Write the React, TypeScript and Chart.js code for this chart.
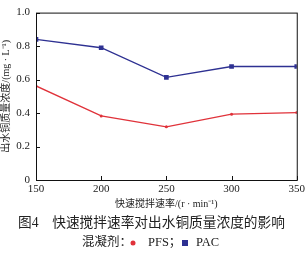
import { useEffect, useRef } from "react";
import { Chart, registerables } from "chart.js";

Chart.register(...registerables);

const speeds = [150, 200, 250, 300, 350];
const pfsValues = [0.562, 0.383, 0.318, 0.393, 0.403];
const pacValues = [0.84, 0.79, 0.613, 0.678, 0.678];
const xTicks = [150, 200, 250, 300, 350];
const yTicks = [0, 0.2, 0.4, 0.6, 0.8, 1.0];

const RED = "#e0323a";
const BLUE = "#2e3192";
const FONT = "'Liberation Serif', 'Noto Sans CJK SC', serif";

const framePlugin = {
  id: "frame",
  afterDraw(chart: any) {
    const { ctx, chartArea: a, scales } = chart;
    ctx.save();
    ctx.strokeStyle = "#111";
    ctx.lineWidth = 1;
    ctx.strokeRect(a.left + 0.5, a.top + 0.5, a.right - a.left, a.bottom - a.top);
    // inner ticks
    ctx.beginPath();
    xTicks.forEach((v) => {
      const x = Math.round(scales.x.getPixelForValue(v)) + 0.5;
      ctx.moveTo(x, a.bottom);
      ctx.lineTo(x, a.bottom - 4);
    });
    yTicks.forEach((v) => {
      const y = Math.round(scales.y.getPixelForValue(v)) + 0.5;
      ctx.moveTo(a.left, y);
      ctx.lineTo(a.left + 4, y);
    });
    ctx.stroke();

    // caption
    ctx.fillStyle = "#222";
    ctx.textBaseline = "middle";
    ctx.textAlign = "left";
    ctx.font = `13.7px ${FONT}`;
    ctx.fillText("图4　快速搅拌速率对出水铜质量浓度的影响", 18, 223);

    // legend line
    ctx.font = `12.5px ${FONT}`;
    ctx.fillText("混凝剂：", 82, 243);
    ctx.fillStyle = RED;
    ctx.beginPath();
    ctx.arc(133, 243, 2.5, 0, Math.PI * 2);
    ctx.fill();
    ctx.fillStyle = "#222";
    ctx.fillText("PFS；", 148, 243);
    ctx.fillStyle = BLUE;
    ctx.fillRect(182, 240, 6, 6);
    ctx.fillStyle = "#222";
    ctx.fillText("PAC", 196, 243);
    ctx.restore();
  },
};

export default function App() {
  const ref = useRef<HTMLCanvasElement>(null);
  useEffect(() => {
    document.body.style.margin = "0";
    const chart = new Chart(ref.current!, {
      type: "line",
      data: {
        datasets: [
          {
            label: "PFS",
            data: speeds.map((x, i) => ({ x, y: pfsValues[i] })),
            borderColor: RED,
            backgroundColor: RED,
            borderWidth: 1.3,
            pointStyle: "circle",
            pointRadius: 1.5,
            pointBorderWidth: 0,
          },
          {
            label: "PAC",
            data: speeds.map((x, i) => ({ x, y: pacValues[i] })),
            borderColor: BLUE,
            backgroundColor: BLUE,
            borderWidth: 1.3,
            pointStyle: "rect",
            pointRadius: 3.3,
            pointBorderWidth: 0,
          },
        ],
      },
      options: {
        animation: false,
        responsive: false,
        devicePixelRatio: 1,
        layout: { padding: { left: 0, right: 11, top: 7, bottom: 47 } },
        plugins: { legend: { display: false }, tooltip: { enabled: false } },
        scales: {
          x: {
            type: "linear",
            min: 150,
            max: 350,
            afterBuildTicks: (s: any) => {
              s.ticks = xTicks.map((v) => ({ value: v }));
            },
            afterFit: (s: any) => {
              s.height = 30;
            },
            grid: { display: false, drawTicks: false },
            border: { display: false },
            ticks: {
              color: "#222",
              padding: 3,
              font: { family: FONT, size: 11 },
              callback: (v: any) => String(v),
            },
            title: {
              display: true,
              text: "快速搅拌速率/(r · min⁻¹)",
              color: "#222",
              font: { family: FONT, size: 10 },
              padding: { top: 0, bottom: 0 },
            },
          },
          y: {
            type: "linear",
            min: 0,
            max: 1,
            afterBuildTicks: (s: any) => {
              s.ticks = yTicks.map((v) => ({ value: v }));
            },
            afterFit: (s: any) => {
              s.width = 36;
            },
            grid: { display: false, drawTicks: false },
            border: { display: false },
            ticks: {
              color: "#222",
              padding: 6,
              font: { family: FONT, size: 11 },
              callback: (v: any) => (v === 0 ? "0" : Number(v).toFixed(1)),
            },
            title: {
              display: true,
              text: "出水铜质量浓度/(mg · L⁻¹)",
              color: "#222",
              font: { family: FONT, size: 10 },
              padding: { top: 0, bottom: 2 },
            },
          },
        },
      },
      plugins: [framePlugin],
    });
    return () => chart.destroy();
  }, []);
  return <canvas ref={ref} width={308} height={257} style={{ display: "block" }} />;
}
